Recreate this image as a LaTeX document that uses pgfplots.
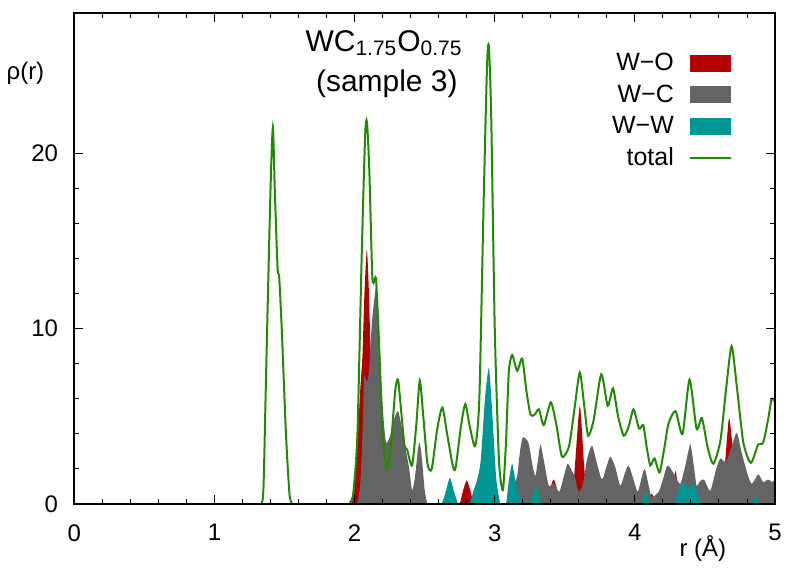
\documentclass[border=0pt]{standalone}
\usepackage{fontspec}
\setmainfont{Liberation Sans}
\usepackage{pgfplots}
\pgfplotsset{compat=1.18}

\definecolor{wocol}{RGB}{180,0,0}
\definecolor{wccol}{RGB}{100,100,100}
\definecolor{wwcol}{RGB}{0,150,150}
\definecolor{totcol}{RGB}{30,140,0}

\pgfplotsset{
    boxleg/.style={legend image code/.code={\fill[##1] (0pt,-4.25pt) rectangle (20.5pt,4.25pt);}},
    lineleg/.style={legend image code/.code={\draw[##1] (0pt,0pt) -- (20.5pt,0pt);}},
}

\begin{document}
\begin{tikzpicture}
\begin{axis}[
    scale only axis,
    width=351pt, height=246pt,
    xmin=0, xmax=5, ymin=0, ymax=28,
    xtick={0,1,2,3,4,5}, ytick={0,10,20},
    minor x tick num=4, minor y tick num=4,
    tick align=inside, tick pos=both,
    major tick length=4.5pt, minor tick length=2.3pt,
    every tick/.style={black, line width=0.5pt},
    axis line style={line width=1pt},
    axis on top,
    font=\fontsize{12}{14}\selectfont,
    /pgf/number format/assume math mode=true,
    xticklabel style={inner sep=0pt, yshift=-10pt},
    yticklabel style={inner sep=0pt, xshift=-8pt},
    xlabel={r (Å)}, ylabel={ρ(r)},
    every axis x label/.style={at={(axis description cs:0.897,0)}, anchor=center, yshift=-22.5pt},
    every axis y label/.style={at={(axis description cs:0,0.878)}, anchor=center, xshift=-24.5pt},
    legend plot pos=right,
    legend cell align=right,
    legend style={draw=none, fill=none, at={(1,1)}, anchor=north east,
        xshift=-21.5pt, yshift=-18pt, inner sep=0pt, row sep=1.5pt,
        font=\fontsize{12.5}{14}\selectfont,
        nodes={inner sep=2pt},
        /tikz/every odd column/.style={column sep=5.5pt}},
]

% W-O
\addplot[fill=wocol, draw=none, smooth, tension=0.4, boxleg] coordinates {
(0,0) (1.9,0) (1.95,0) (1.97,0) (1.985,0.2) (2.00,1) (2.02,3.5) (2.04,6.5) (2.056,8.5)
(2.07,12) (2.087,14.5) (2.10,12.5) (2.115,8.5) (2.13,5) (2.15,2) (2.17,0.5) (2.19,0)
(2.22,0) (2.3,0)
(2.7,0) (2.73,0) (2.75,0) (2.775,0.8) (2.80,1.35) (2.825,0.8) (2.85,0) (2.87,0) (2.95,0)
(3.3,0) (3.36,0) (3.38,0) (3.40,1.0) (3.42,1.4) (3.44,1.0) (3.46,0) (3.49,0) (3.52,0)
(3.55,0) (3.575,2.5) (3.607,5.6) (3.635,2.5) (3.66,0) (3.69,0) (3.8,0)
(4.0,0) (4.06,0) (4.09,0) (4.12,0.6) (4.15,0) (4.18,0) (4.23,0) (4.26,0) (4.29,1.9)
(4.32,0) (4.35,0) (4.5,0) (4.59,0) (4.62,0) (4.645,2.5) (4.672,4.9) (4.70,3) (4.73,0)
(4.76,0) (4.9,0) (5,0)
};
\addlegendentry{W−O}

% W-C
\addplot[fill=wccol, draw=none, smooth, tension=0.4, boxleg] coordinates {
(0,0) (1.9,0) (1.98,0) (2.01,0) (2.025,0.2) (2.04,1.2) (2.05,2.8) (2.06,5) (2.068,7.3)
(2.085,7.0) (2.10,7.4) (2.125,10.5) (2.155,12.4) (2.175,10) (2.19,7) (2.21,4.5) (2.225,3.5)
(2.25,3.8) (2.28,4.8) (2.31,5.3) (2.34,4.2) (2.365,3.1) (2.39,2) (2.41,0.8) (2.43,1.5)
(2.45,3) (2.464,3.5) (2.48,2.6) (2.50,0.8) (2.52,0) (2.54,0) (2.6,0) (3.0,0) (3.06,0)
(3.08,0) (3.10,0.5) (3.13,1.0) (3.16,1.6) (3.18,3.0) (3.20,3.8)
(3.24,3.5) (3.27,2.2) (3.29,1.6) (3.31,2.6) (3.326,3.4) (3.35,2.5) (3.385,1.05) (3.42,1.2)
(3.46,0.7) (3.49,1.5) (3.52,2.3) (3.55,1.9) (3.57,1.6) (3.60,0.7) (3.63,1.2) (3.66,2.6)
(3.694,3.33) (3.73,2.3) (3.765,1.4) (3.80,2.2) (3.825,2.7) (3.86,2.1) (3.896,1.05) (3.93,1.8)
(3.955,2.2) (3.99,1.4) (4.02,0.7) (4.045,1.4) (4.07,2.0) (4.10,1.0) (4.12,0.4) (4.17,0.7)
(4.20,1.4) (4.233,2.2) (4.28,1.7) (4.323,1.15) (4.36,2.2) (4.395,3.4) (4.42,2.2) (4.44,1.05)
(4.465,1.3) (4.494,1.4) (4.537,0.76) (4.58,2.0) (4.61,2.6) (4.65,2.4) (4.69,3.3) (4.727,4.06)
(4.76,3.0) (4.80,1.8) (4.834,1.15) (4.88,1.7) (4.915,1.25) (4.95,1.4) (4.98,1.25) (5.0,1.3) (5.0,0)
};
\addlegendentry{W−C}

% W-W
\addplot[fill=wwcol, draw=none, smooth, tension=0.4, boxleg] coordinates {
(0,0) (2.5,0) (2.58,0) (2.62,0) (2.65,0.7) (2.68,1.5) (2.71,0.7) (2.74,0) (2.77,0)
(2.80,0) (2.82,0) (2.85,0.8) (2.875,1.4) (2.90,2.5) (2.93,6) (2.958,7.75) (2.98,5.5)
(3.01,1.5) (3.04,0) (3.06,0) (3.08,0) (3.10,1.3) (3.124,2.3) (3.15,1.2) (3.19,0) (3.21,0)
(3.23,0) (3.25,0) (3.28,0.7) (3.295,1.0) (3.31,0.7) (3.34,0) (3.37,0) (3.6,0)
(4.0,0) (4.02,0) (4.04,0) (4.08,0.7) (4.11,0) (4.14,0) (4.2,0) (4.25,0) (4.28,0)
(4.31,0.8) (4.34,1.2) (4.38,0.95) (4.42,1.1) (4.45,0.5) (4.47,0) (4.50,0) (4.7,0)
(4.8,0) (4.83,0) (4.86,0.45) (4.89,0) (4.92,0) (4.97,0) (4.99,0) (5,0.2) (5,0)
};
\addlegendentry{W−W}

% total
\addplot[color=totcol, line width=1pt, smooth, tension=0.4, lineleg] coordinates {
(0,0) (1.0,0) (1.25,0) (1.31,0) (1.335,0) (1.35,1) (1.37,8) (1.40,18) (1.417,21.5)
(1.43,18) (1.45,13.5) (1.462,12.9) (1.48,10) (1.51,4) (1.535,0.6) (1.555,0) (1.58,0)
(1.7,0) (1.9,0) (1.94,0) (1.96,0) (1.99,0.6) (2.02,4)
(2.05,14) (2.075,21) (2.088,21.8) (2.105,19) (2.125,13.2) (2.135,12.6) (2.153,12.8) (2.175,9)
(2.2,4) (2.23,2.0) (2.26,3.5) (2.29,6.5) (2.31,7.1) (2.33,5.5) (2.355,3.4) (2.375,3.1)
(2.41,2.2) (2.44,4.5) (2.465,7.05) (2.49,5) (2.52,2.3) (2.55,2.0) (2.59,4.3) (2.626,5.5)
(2.66,4) (2.70,2.2) (2.72,2.05) (2.76,4.5) (2.79,5.7) (2.82,4.5) (2.86,3.3) (2.89,6)
(2.92,17) (2.945,25) (2.958,26.1) (2.975,22) (3.0,10) (3.03,2.5) (3.058,0.8) (3.08,3.5)
(3.10,7.5) (3.124,8.5) (3.16,7.6) (3.196,8.3) (3.225,6.5) (3.255,5.1) (3.285,5.1) (3.315,5.4)
(3.35,4.5) (3.40,5.8) (3.44,4.5) (3.48,2.7) (3.53,3.3) (3.57,5.5) (3.607,7.5) (3.64,5.5)
(3.666,3.9) (3.706,4.8) (3.76,7.4) (3.806,5.6) (3.844,6.6) (3.88,5.0) (3.92,3.9) (3.955,4.4)
(3.99,5.4) (4.03,4.3) (4.06,4.5) (4.085,3.2) (4.11,2.2) (4.14,2.6) (4.176,1.8) (4.21,3.2)
(4.24,4.6) (4.29,5.3) (4.34,4.0) (4.39,7.1) (4.44,4.3) (4.478,4.9) (4.52,3.2) (4.56,2.3)
(4.61,3.6) (4.65,6.5) (4.69,9.0) (4.73,6.5) (4.774,3.5) (4.827,2.35) (4.88,3.4) (4.915,3.5)
(4.95,4.8) (4.976,6.0) (5.0,5.8)
};
\addlegendentry{total}

\node[anchor=base, font=\fontsize{15}{17}\selectfont] at (axis cs:2.21,25.83)
    {WC\textsubscript{1.75}O\textsubscript{0.75}};
\node[anchor=base, font=\fontsize{15}{17}\selectfont] at (axis cs:2.23,23.54)
    {(sample 3)};
\end{axis}
\path[use as bounding box] ([shift={(-36.5pt,-30pt)}]current axis.south west)
    rectangle ([shift={(7pt,6.5pt)}]current axis.north east);
\end{tikzpicture}
\end{document}
